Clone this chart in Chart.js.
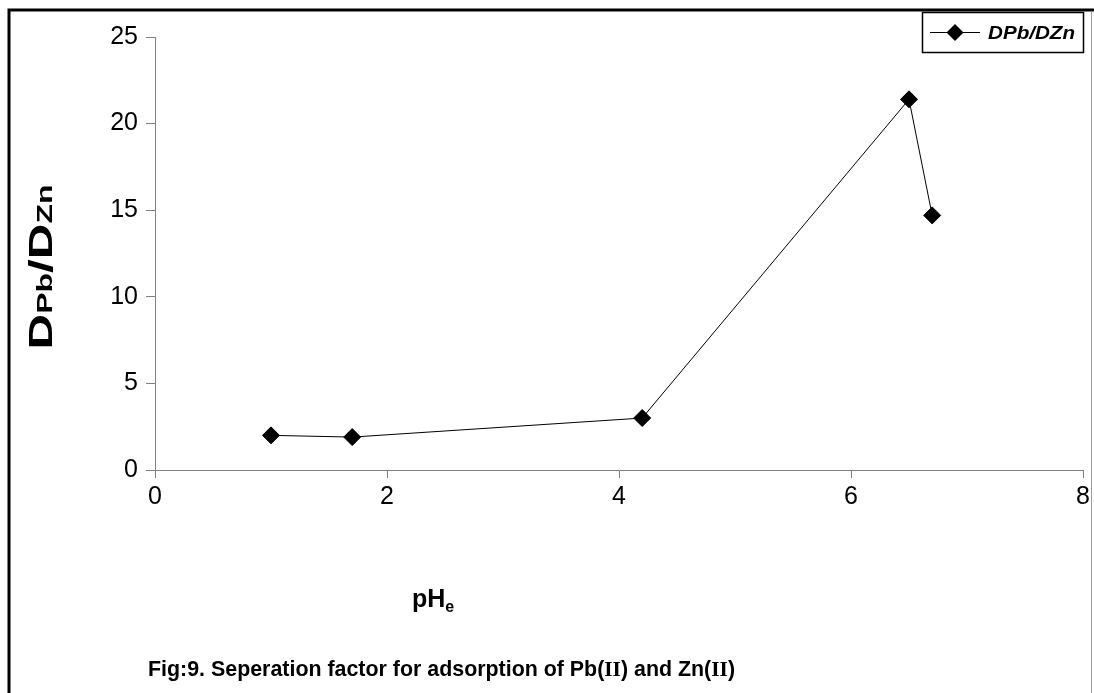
<!DOCTYPE html>
<html>
<head>
<meta charset="utf-8">
<script src="https://cdn.jsdelivr.net/npm/chart.js@4"></script>
<style>
  html, body { margin: 0; padding: 0; background: #fff; }
  #wrap { width: 1094px; height: 693px; position: relative; }
</style>
</head>
<body>
<div id="wrap"><canvas id="chart" width="1094" height="693"></canvas></div>
<script>
// pH_e vs separation factor D(Pb)/D(Zn)
const phValues = [1.0, 1.7, 4.2, 6.5, 6.7];
const ratioValues = [2.0, 1.9, 3.0, 21.4, 14.7];
const seriesLabel = 'DPb/DZn';
const captionText = 'Fig:9. Seperation factor for adsorption of Pb(';

const axisGray = '#808080';
const sansFont = '"Liberation Sans", Arial, sans-serif';
const narrowFont = '"Liberation Sans Narrow", "Arial Narrow", "Liberation Sans", sans-serif';

// writes a list of [text, font] pieces in a row, stretched to a given width
function drawRun(ctx, parts, x, y, width, align) {
  let total = 0;
  parts.forEach(p => { ctx.font = p[1]; total += ctx.measureText(p[0]).width; });
  const sx = width ? width / total : 1;
  ctx.save();
  ctx.translate(align === 'center' ? x - (total * sx) / 2 : x, y);
  ctx.scale(sx, 1);
  let cx = 0;
  parts.forEach(p => {
    ctx.font = p[1];
    ctx.fillText(p[0], cx, p[2] || 0);
    cx += ctx.measureText(p[0]).width;
  });
  ctx.restore();
}

// draws border, axis titles, legend box and caption
const decorations = {
  id: 'decorations',
  afterDraw(chart) {
    const ctx = chart.ctx;
    ctx.save();

    // page frame
    ctx.strokeStyle = '#000';
    ctx.lineWidth = 3;
    ctx.beginPath();
    ctx.moveTo(9, 693); ctx.lineTo(9, 10); ctx.lineTo(1094, 10);
    ctx.stroke();
    ctx.strokeStyle = '#999';
    ctx.lineWidth = 1;
    ctx.beginPath();
    ctx.moveTo(1091.5, 11); ctx.lineTo(1091.5, 693);
    ctx.stroke();

    ctx.fillStyle = '#000';
    ctx.textAlign = 'left';
    ctx.textBaseline = 'alphabetic';

    // y axis title D_Pb/D_Zn
    ctx.save();
    ctx.translate(52, 267);
    ctx.rotate(-Math.PI / 2);
    const big = 'bold 34px ' + sansFont;
    const small = 'bold 22px ' + sansFont;
    drawRun(ctx, [['D', big], ['Pb', small], ['/', big], ['D', big], ['Zn', small]], 0, 0, 165, 'center');
    ctx.restore();

    // x axis title pH_e
    drawRun(ctx, [['pH', 'bold 25px ' + sansFont], ['e', 'bold 16px ' + sansFont, 5]], 412, 607, 0, 'left');

    // legend box
    ctx.strokeStyle = '#000';
    ctx.lineWidth = 1.5;
    ctx.strokeRect(922.5, 12.5, 161, 40);
    ctx.lineWidth = 1;
    ctx.beginPath();
    ctx.moveTo(930, 32.5); ctx.lineTo(980, 32.5);
    ctx.stroke();
    ctx.beginPath();
    ctx.moveTo(955, 24); ctx.lineTo(963.5, 32.5); ctx.lineTo(955, 41); ctx.lineTo(946.5, 32.5);
    ctx.closePath();
    ctx.fill();
    drawRun(ctx, [[seriesLabel, 'italic bold 19px ' + sansFont]], 988, 39, 87, 'left');

    // caption, squeezed to the reference width
    const capFont = 'bold 22px ' + narrowFont;
    const romanFont = 'bold 22px "Liberation Serif", "Times New Roman", serif';
    drawRun(ctx, [
      [captionText, capFont], ['II', romanFont], [') and Zn(', capFont], ['II', romanFont], [')', capFont]
    ], 148, 676, 587, 'left');

    ctx.restore();
  }
};

new Chart(document.getElementById('chart').getContext('2d'), {
  type: 'line',
  data: {
    datasets: [{
      label: seriesLabel,
      data: phValues.map((x, i) => ({ x: x, y: ratioValues[i] })),
      borderColor: '#000',
      borderWidth: 1,
      backgroundColor: '#000',
      pointStyle: 'rectRot',
      pointRadius: 8.5,
      pointHoverRadius: 8.5,
      pointBackgroundColor: '#000',
      pointBorderColor: '#000',
      tension: 0
    }]
  },
  options: {
    responsive: false,
    animation: false,
    layout: { padding: { left: 0, right: 11, top: 37, bottom: 0 } },
    plugins: {
      legend: { display: false },
      title: { display: false },
      tooltip: { enabled: false }
    },
    scales: {
      x: {
        type: 'linear',
        min: 0,
        max: 8,
        ticks: { stepSize: 2, color: '#000', font: { size: 25, family: sansFont }, padding: 4 },
        grid: { drawOnChartArea: false, drawTicks: true, tickLength: 8, color: axisGray },
        border: { color: axisGray, width: 1 },
        afterFit(scale) { scale.height = 223; }
      },
      y: {
        min: 0,
        max: 25,
        ticks: { stepSize: 5, color: '#000', font: { size: 25, family: sansFont }, padding: 8 },
        grid: { drawOnChartArea: false, drawTicks: true, tickLength: 9, color: axisGray },
        border: { color: axisGray, width: 1 },
        afterFit(scale) { scale.width = 155; }
      }
    }
  },
  plugins: [decorations]
});
</script>
</body>
</html>
